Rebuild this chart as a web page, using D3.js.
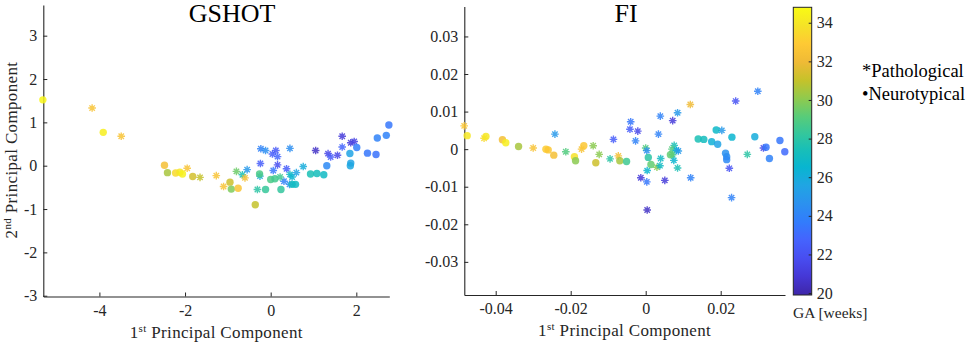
<!DOCTYPE html>
<html lang="en">
<head>
  <meta charset="UTF-8">
  <title>PCA - GSHOT / FI</title>
  <script src="https://d3js.org/d3.v7.min.js"></script>
  <style>
    * { margin: 0; padding: 0; box-sizing: border-box; }
    body { background: #fff; }
    .axis path, .axis line { stroke: #262626; }
  </style>
</head>
<body>
  <div id="chart"></div>
  <script>
    const FONT = "'Liberation Serif', Times, serif";

    // colour bar (gestational age), parula colormap
    const gaExtent = [19.9, 34.8];
    const gaTicks = [20, 22, 24, 26, 28, 30, 32, 34];
    const parulaPos = [0, 4, 8, 12, 16, 20, 24, 28, 32, 35, 39, 43, 47, 51, 55, 59, 63];
    const parulaHex = ["#3e26a8", "#4537d5", "#484df0", "#4563fd", "#327cfc", "#2b91ef",
                       "#20a5e3", "#08b5d0", "#19bfb6", "#31c69f", "#57cc7a", "#8fca4e",
                       "#c5c22a", "#efba36", "#fec934", "#f5e327", "#f9fb14"];

    const gshotTicksX = [-4, -2, 0, 2];
    const gshotTicksY = [-3, -2, -1, 0, 1, 2, 3];
    const fiTicksX = [-0.04, -0.02, 0, 0.02];
    const fiTicksY = [-0.03, -0.02, -0.01, 0, 0.01, 0.02, 0.03];

    // [1st PC, 2nd PC, GA weeks, kind]   p = pathological (*), n = neurotypical (dot)
    const gshotPoints = [
      [-5.32, 1.52, 34.6, "n"], [-4.17, 1.33, 32.5, "p"], [-3.91, 0.77, 34.3, "n"],
      [-3.49, 0.68, 32.5, "p"], [-2.48, 0.01, 32.3, "n"], [-2.41, -0.16, 30.5, "n"],
      [-2.22, -0.17, 33.5, "n"], [-2.12, -0.15, 34.0, "n"], [-2.06, -0.19, 34.4, "n"],
      [-1.95, -0.06, 32.5, "p"], [-1.82, -0.25, 31.3, "n"], [-1.65, -0.27, 31.0, "p"],
      [-1.27, -0.23, 32.5, "p"], [-1.10, -0.48, 32.5, "p"], [-0.95, -0.38, 31.2, "n"],
      [-0.92, -0.54, 29.8, "n"], [-0.76, -0.52, 32.6, "n"], [-0.80, -0.13, 29.5, "p"],
      [-0.66, -0.21, 27.5, "p"], [-0.60, -0.28, 32.3, "p"], [-0.55, -0.09, 25.0, "p"],
      [-0.36, -0.90, 31.0, "n"], [-0.31, -0.55, 28.0, "p"], [-0.26, -0.19, 28.8, "n"],
      [-0.25, -0.24, 26.0, "p"], [-0.23, 0.39, 24.0, "p"], [-0.12, 0.35, 24.5, "p"],
      [-0.24, 0.05, 22.5, "p"], [-0.12, -0.55, 28.3, "n"], [0.00, -0.32, 28.8, "n"],
      [0.10, -0.30, 28.6, "n"], [0.06, -0.11, 23.5, "p"], [0.04, 0.27, 22.5, "p"],
      [0.12, 0.35, 22.3, "p"], [0.16, 0.21, 22.8, "p"], [0.16, 0.02, 21.8, "p"],
      [0.24, -0.55, 28.2, "n"], [0.37, -0.07, 22.5, "p"], [0.31, -0.36, 24.0, "p"],
      [0.22, -0.26, 28.5, "p"], [0.45, -0.20, 27.0, "p"], [0.50, -0.26, 26.5, "p"],
      [0.60, -0.16, 25.5, "p"], [0.44, -0.43, 24.5, "p"], [0.45, 0.40, 24.5, "p"],
      [0.50, -0.43, 27.2, "n"], [0.58, -0.43, 27.0, "n"], [0.76, -0.02, 26.0, "p"],
      [0.93, -0.19, 27.5, "n"], [1.08, -0.18, 27.3, "n"], [1.24, -0.21, 27.0, "n"],
      [1.05, 0.35, 20.5, "p"], [1.34, 0.28, 21.5, "p"], [1.40, 0.20, 22.5, "p"],
      [1.56, 0.24, 21.5, "p"], [1.31, 0.00, 24.3, "n"], [1.67, 0.68, 21.0, "p"],
      [1.87, 0.53, 21.0, "p"], [1.95, 0.56, 21.3, "p"], [1.67, 0.43, 22.8, "p"],
      [2.01, 0.42, 23.8, "n"], [2.26, 0.29, 23.5, "n"], [2.46, 0.26, 23.3, "n"],
      [1.85, 0.28, 25.5, "n"], [1.87, 0.06, 25.5, "n"], [1.86, 0.00, 25.7, "n"],
      [2.49, 0.64, 24.0, "n"], [2.70, 0.70, 24.0, "n"], [2.76, 0.94, 23.5, "n"]
    ];

    const fiPoints = [
      [-0.0484, 0.0062, 32.8, "p"], [-0.0476, 0.0036, 34.0, "n"], [-0.0431, 0.0029, 33.5, "p"],
      [-0.0426, 0.0034, 34.0, "n"], [-0.0382, 0.0025, 32.2, "n"], [-0.0373, 0.0017, 34.3, "n"],
      [-0.0339, 0.0007, 30.5, "n"], [-0.0300, 0.0003, 32.5, "p"], [-0.0242, 0.0040, 25.0, "p"],
      [-0.0266, 0.0000, 33.0, "n"], [-0.0260, -0.0002, 32.8, "n"], [-0.0245, -0.0016, 32.3, "n"],
      [-0.0213, -0.0007, 29.0, "p"], [-0.0165, 0.0009, 32.8, "n"], [-0.0171, 0.0000, 32.5, "p"],
      [-0.0190, -0.0020, 33.8, "n"], [-0.0187, -0.0031, 30.0, "n"], [-0.0140, 0.0009, 30.0, "p"],
      [-0.0124, -0.0014, 30.0, "p"], [-0.0133, -0.0036, 31.2, "n"], [-0.0095, -0.0026, 28.0, "p"],
      [-0.0086, 0.0026, 22.5, "p"], [-0.0073, -0.0018, 32.3, "p"], [-0.0069, -0.0031, 30.5, "n"],
      [-0.0051, -0.0033, 28.5, "n"], [-0.0040, 0.0073, 23.5, "p"], [-0.0042, 0.0053, 22.5, "p"],
      [-0.0021, 0.0048, 21.5, "p"], [-0.0027, 0.0022, 24.0, "p"], [0.0000, 0.0003, 29.0, "p"],
      [0.0003, -0.0004, 24.5, "p"], [0.0007, -0.0022, 28.0, "n"], [-0.0013, -0.0076, 21.0, "p"],
      [0.0003, -0.0087, 23.5, "p"], [0.0051, -0.0083, 21.0, "p"], [0.0004, -0.0162, 20.5, "p"],
      [0.0004, -0.0057, 26.5, "p"], [0.0014, -0.0041, 29.3, "n"], [0.0030, -0.0048, 30.0, "p"],
      [0.0040, -0.0025, 27.0, "p"], [0.0038, -0.0044, 27.0, "p"], [0.0039, 0.0088, 24.0, "p"],
      [0.0034, 0.0040, 24.0, "p"], [0.0072, 0.0076, 21.0, "p"], [0.0085, 0.0097, 25.0, "p"],
      [0.0119, 0.0119, 32.0, "p"], [0.0076, 0.0010, 27.5, "p"], [0.0070, 0.0000, 29.0, "p"],
      [0.0082, -0.0003, 26.5, "p"], [0.0066, -0.0015, 29.3, "n"], [0.0072, -0.0015, 28.5, "p"],
      [0.0075, -0.0030, 26.5, "p"], [0.0085, -0.0050, 27.5, "p"], [0.0087, -0.0005, 25.0, "p"],
      [0.0120, -0.0076, 24.0, "p"], [0.0140, 0.0027, 27.5, "n"], [0.0155, 0.0026, 27.2, "n"],
      [0.0176, 0.0020, 26.2, "n"], [0.0192, 0.0013, 25.5, "n"], [0.0188, 0.0051, 26.8, "n"],
      [0.0203, 0.0050, 25.0, "p"], [0.0213, -0.0011, 24.7, "n"], [0.0216, -0.0020, 24.5, "n"],
      [0.0216, -0.0028, 24.3, "n"], [0.0223, -0.0051, 22.0, "p"], [0.0229, -0.0129, 24.0, "p"],
      [0.0230, 0.0032, 26.5, "n"], [0.0240, 0.0128, 22.0, "p"], [0.0299, 0.0154, 24.0, "p"],
      [0.0271, -0.0014, 28.0, "p"], [0.0291, 0.0033, 26.0, "n"], [0.0314, 0.0003, 21.5, "p"],
      [0.0321, 0.0005, 23.5, "n"], [0.0330, -0.0025, 24.0, "n"], [0.0358, 0.0023, 23.5, "n"],
      [0.0371, -0.0007, 23.0, "n"]
    ];

    const svg = d3.select("#chart")
                  .append("svg")
                  .attr("width", 972)
                  .attr("height", 342)
                  .style("font-family", FONT);

    const gaAt = p => gaExtent[0] + p / 63 * (gaExtent[1] - gaExtent[0]);
    const color = d3.scaleLinear()
                    .domain(parulaPos.map(gaAt))
                    .range(parulaHex)
                    .clamp(true);

    const starPath = (r) => {
      const a = r * 0.7071;
      return `M${-r},0L${r},0M0,${-r}L0,${r}M${-a},${-a}L${a},${a}M${-a},${a}L${a},${-a}`;
    };

    const fmt = d => d === 0 ? "0" : String(d);

    const styleTicks = a => {
      a.attr("font-family", null).attr("font-size", null);
      a.selectAll("text")
       .style("font-family", FONT)
       .style("font-size", "16px")
       .attr("fill", "#262626");
    };

    function drawPanel(cfg) {
      const x = d3.scaleLinear().domain(cfg.xDomain).range(cfg.xRange);
      const y = d3.scaleLinear().domain(cfg.yDomain).range(cfg.yRange);
      const g = svg.append("g");

      g.append("g")
       .attr("class", "axis")
       .attr("transform", `translate(0,${cfg.yRange[0]})`)
       .call(d3.axisBottom(x).tickValues(cfg.ticksX).tickFormat(fmt)
               .tickSizeInner(-4).tickSizeOuter(0).tickPadding(8))
       .call(styleTicks);

      g.append("g")
       .attr("class", "axis")
       .attr("transform", `translate(${cfg.xRange[0]},0)`)
       .call(d3.axisLeft(y).tickValues(cfg.ticksY).tickFormat(fmt)
               .tickSizeInner(-4).tickSizeOuter(0).tickPadding(6))
       .call(styleTicks);

      g.selectAll(".axis .domain").attr("stroke-width", 1.1);

      const marks = g.append("g");
      marks.selectAll("path.star")
           .data(cfg.points.filter(d => d[3] === "p"))
           .join("path")
           .attr("class", "star")
           .attr("transform", d => `translate(${x(d[0])},${y(d[1])})`)
           .attr("d", starPath(3.8))
           .attr("fill", "none")
           .attr("stroke", d => color(d[2]))
           .attr("stroke-width", 1.4)
           .attr("stroke-opacity", 0.85);

      marks.selectAll("circle")
           .data(cfg.points.filter(d => d[3] === "n"))
           .join("circle")
           .attr("cx", d => x(d[0]))
           .attr("cy", d => y(d[1]))
           .attr("r", 3.7)
           .attr("fill", d => color(d[2]))
           .attr("fill-opacity", 0.85);

      g.append("text")
       .attr("x", cfg.titleX)
       .attr("y", 21.5)
       .attr("text-anchor", "middle")
       .style("font-size", "26px")
       .style("fill", "#000")
       .text(cfg.title);

      const xl = g.append("text")
                  .attr("x", (cfg.xRange[0] + cfg.xRange[1]) / 2)
                  .attr("y", cfg.xLabelY)
                  .attr("text-anchor", "middle")
                  .style("font-size", "17px")
                  .style("letter-spacing", "0.35px")
                  .style("fill", "#262626");
      xl.append("tspan").text("1");
      xl.append("tspan").attr("dy", -6).style("font-size", "11px").text("st");
      xl.append("tspan").attr("dy", 6).text(" Principal Component");

      return { x, y };
    }

    drawPanel({
      title: "GSHOT", titleX: 232,
      points: gshotPoints,
      xDomain: [-5.31, 2.77], xRange: [43.3, 389.3],
      yDomain: [-3.018, 3.708], yRange: [296.5, 5],
      ticksX: gshotTicksX, ticksY: gshotTicksY, xLabelY: 338
    });

    drawPanel({
      title: "FI", titleX: 626,
      points: fiPoints,
      xDomain: [-0.04837, 0.03715], xRange: [464.3, 785],
      yDomain: [-0.03882, 0.03797], yRange: [295, 6.5],
      ticksX: fiTicksX, ticksY: fiTicksY, xLabelY: 335.5
    });

    // y label of the left panel
    const yl = svg.append("text")
                  .attr("transform", "translate(17,150) rotate(-90)")
                  .attr("text-anchor", "middle")
                  .style("font-size", "17px")
                  .style("letter-spacing", "0.35px")
                  .style("fill", "#262626");
    yl.append("tspan").text("2");
    yl.append("tspan").attr("dy", -6).style("font-size", "11px").text("nd");
    yl.append("tspan").attr("dy", 6).text(" Principal Component");

    // colour bar
    const cb = { x0: 793.3, x1: 811.7, y0: 7.3, y1: 295 };
    const grad = svg.append("defs")
                    .append("linearGradient")
                    .attr("id", "parula")
                    .attr("x1", 0).attr("y1", 1).attr("x2", 0).attr("y2", 0);
    parulaHex.forEach((c, i) => {
      grad.append("stop")
          .attr("offset", parulaPos[i] / 63)
          .attr("stop-color", c);
    });
    svg.append("rect")
       .attr("x", cb.x0).attr("y", cb.y0)
       .attr("width", cb.x1 - cb.x0).attr("height", cb.y1 - cb.y0)
       .attr("fill", "url(#parula)")
       .attr("stroke", "#262626")
       .attr("stroke-width", 1);

    const cbScale = d3.scaleLinear().domain(gaExtent).range([cb.y1, cb.y0]);
    svg.append("g")
       .attr("class", "axis")
       .attr("transform", `translate(${cb.x1},0)`)
       .call(d3.axisRight(cbScale).tickValues(gaTicks)
               .tickSizeInner(-3).tickSizeOuter(0).tickPadding(5))
       .call(a => a.select(".domain").remove())
       .call(styleTicks);

    svg.append("text")
       .attr("x", 793)
       .attr("y", 317.5)
       .style("font-size", "15.5px")
       .style("fill", "#262626")
       .text("GA [weeks]");

    // legend text
    svg.append("text")
       .attr("x", 862).attr("y", 77)
       .style("font-size", "18.5px")
       .style("fill", "#000")
       .text("*Pathological");
    svg.append("text")
       .attr("x", 862).attr("y", 100)
       .style("font-size", "18.5px")
       .style("fill", "#000")
       .text("•Neurotypical");
  </script>
</body>
</html>
